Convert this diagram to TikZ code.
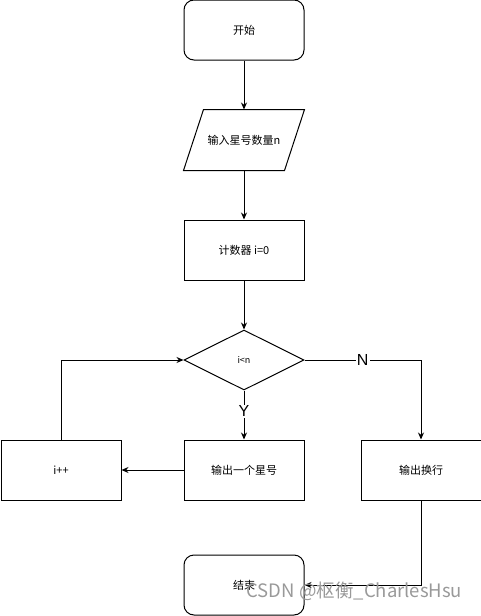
\documentclass[tikz,border=0pt]{standalone}
\usepackage{fontspec}
\setmainfont{Liberation Sans}
\newfontfamily\cjk{Noto Sans CJK SC}
\usetikzlibrary{arrows.meta,positioning,shapes.geometric}

\begin{document}
\begin{tikzpicture}[x=1pt,y=-1pt,node distance=49pt and 56pt,line width=1pt,>={Stealth[length=7pt,width=6pt]}]
\tikzstyle{box} = [draw, minimum width=120pt, minimum height=60pt, font=\cjk\fontsize{11}{13}\selectfont]
\tikzstyle{term} = [box, rounded corners=10pt]
\tikzstyle{io} = [box, draw=none]
\tikzstyle{test} = [box, diamond, aspect=2, inner sep=0pt, font=\cjk\fontsize{9}{11}\selectfont]
\tikzstyle{yn} = [fill=white, inner sep=1pt, font=\fontsize{16}{18}\selectfont]
\useasboundingbox (0,0) rectangle (481,616);
\node[term] (start) at (244,30) {开始};
\node[io] (input) [below=of start] {输入星号数量n};
\draw ([xshift=20pt]input.north west) -- (input.north east) -- ([xshift=-20pt]input.south east) -- (input.south west) -- cycle;
\node[box] (count) [below=of input] {计数器 i=0};
\node[test] (cond) [below=of count] {i<n};
\node[box] (star) [below=of cond] {输出一个星号};
\node[box] (inc) [left=62pt of star] {i++};
\node[box] (newline) [right=of star] {输出换行};
\node[term] (stop) [below=54pt of star] {结束};
\foreach \from/\to in {start/input, input/count, count/cond, star/inc}
\draw [->] (\from) -- (\to);
\draw [->] (cond) -- node[yn, pos=0.42] {Y} (star);
\draw [->] (cond) -- node[yn] {N} (cond -| newline) -- (newline);
\draw [->] (inc) |- (cond);
\draw [->] (newline) |- (stop);
% watermark
\node (mark) [anchor=base east, text=black!40, font=\cjk\fontsize{18.5}{20}\selectfont] at (466,597) {CSDN @枢衡\_CharlesHsu};
\end{tikzpicture}
\end{document}
